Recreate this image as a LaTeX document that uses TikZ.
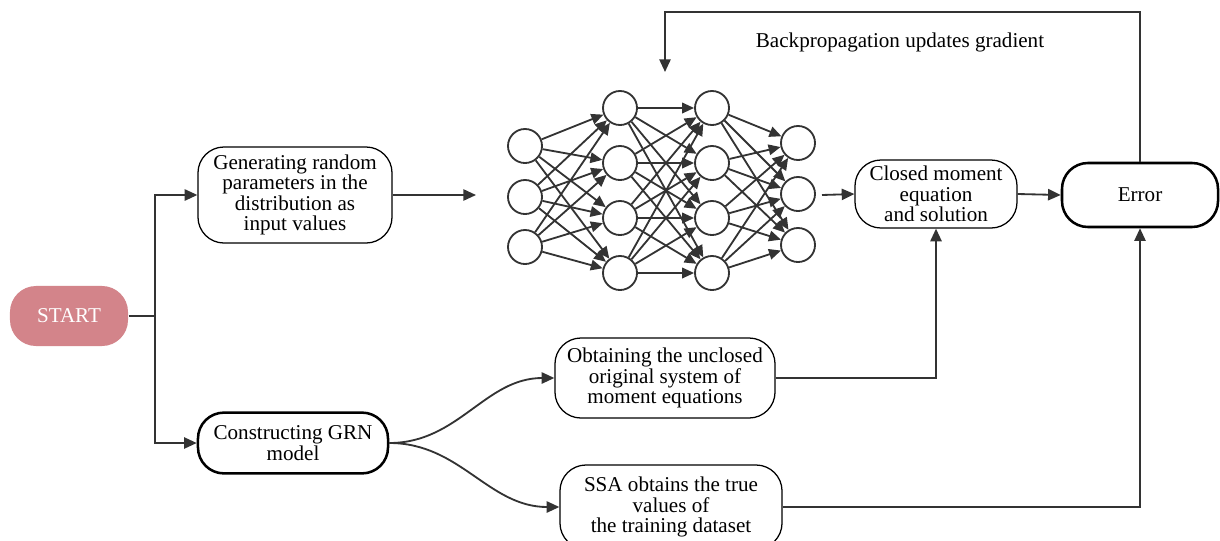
\documentclass[tikz,border=0pt]{standalone}
\usepackage{fontspec}
\setmainfont{Liberation Serif}
\usetikzlibrary{arrows.meta,positioning,calc}
\definecolor{sred}{HTML}{D3848A}
\definecolor{sline}{HTML}{333333}

\begin{document}
\begin{tikzpicture}[x=0.025cm, y=-0.025cm,
    box/.style={rectangle, draw=black, line width=0.9pt, rounded corners=0.65cm, fill=white, font=\fontsize{15}{14.5}\selectfont, align=center, inner sep=2pt},
    boldbox/.style={box, line width=1.8pt},
    link/.style={draw=sline, line width=1.3pt},
    arr/.style={link, -{Triangle[length=9pt,width=8pt]}},
    neuron/.style={circle, draw=sline, line width=1.3pt, minimum size=0.85cm, inner sep=0pt, fill=white},
    syn/.style={draw=sline, line width=1.3pt, -{Triangle[length=8.5pt,width=7.5pt]}}
]
    \useasboundingbox (0,0) rectangle (1220,540);

    % Boxes
    \node[box, fill=sred, draw=none, text=white, minimum width=2.95cm, minimum height=1.5cm] (start) at (69,316) {START};
    \node[box, minimum width=4.85cm, minimum height=2.4cm] (gen) at (295,195) {Generating random\\parameters in the\\distribution as\\input values};
    \node[boldbox, minimum width=4.75cm, minimum height=1.52cm] (grn) at (293,443) {Constructing GRN\\model};
    \node[box, minimum width=4.05cm, minimum height=1.7cm] (closed) at (936,194) {Closed moment\\equation\\and solution};
    \node[boldbox, minimum width=3.9cm, minimum height=1.6cm] (err) at (1140,195) {Error};
    \node[box, minimum width=5.5cm, minimum height=2cm] (unclosed) at (665,378) {Obtaining the unclosed\\original system of\\moment equations};
    \node[box, minimum width=5.55cm, minimum height=2.1cm] (ssa) at (671,507) {SSA obtains the true\\values of\\the training dataset};

    % Neural network
    \foreach \y [count=\i] in {146,197,247} \node[neuron] (a\i) at (525,\y) {};
    \foreach \y [count=\i] in {108,163,218,273} \node[neuron] (b\i) at (620,\y) {};
    \foreach \y [count=\i] in {108,163,218,273} \node[neuron] (c\i) at (712,\y) {};
    \foreach \y [count=\i] in {143,194,245} \node[neuron] (d\i) at (798,\y) {};
    \foreach \i in {1,...,3} \foreach \j in {1,...,4} \draw[syn] (a\i) -- (b\j);
    \foreach \i in {1,...,4} \foreach \j in {1,...,4} \draw[syn] (b\i) -- (c\j);
    \foreach \i in {1,...,4} \foreach \j in {1,...,3} \draw[syn] (c\i) -- (d\j);
    \coordinate (nnin) at (476,195);
    \coordinate (nnout) at (822,195);

    % Arrows
    \coordinate (split) at (155,316);
    \draw[link] (start.east) -- (split);
    \draw[arr] (split) |- (gen.west);
    \draw[arr] (split) |- (grn.west);
    \draw[arr] (gen.east) -- (nnin);
    \draw[arr] (nnout) -- (closed.west);
    \draw[arr] (closed.east) -- (err.west);
    \draw[arr] (grn.east) to[out=0, in=180] (unclosed.west);
    \draw[arr] (grn.east) to[out=0, in=180] (ssa.west);
    \draw[arr] (unclosed.east) -| (closed.south);
    \draw[arr] (ssa.east) -| (err.south);

    % Feedback
    \coordinate (top) at (665,12);
    \coordinate (bp) at (665,72);
    \draw[arr] (err.north) |- (top) -- (bp);
    \node[font=\fontsize{15}{14.5}\selectfont] (bplabel) at (900,42) {Backpropagation updates gradient};
\end{tikzpicture}
\end{document}
